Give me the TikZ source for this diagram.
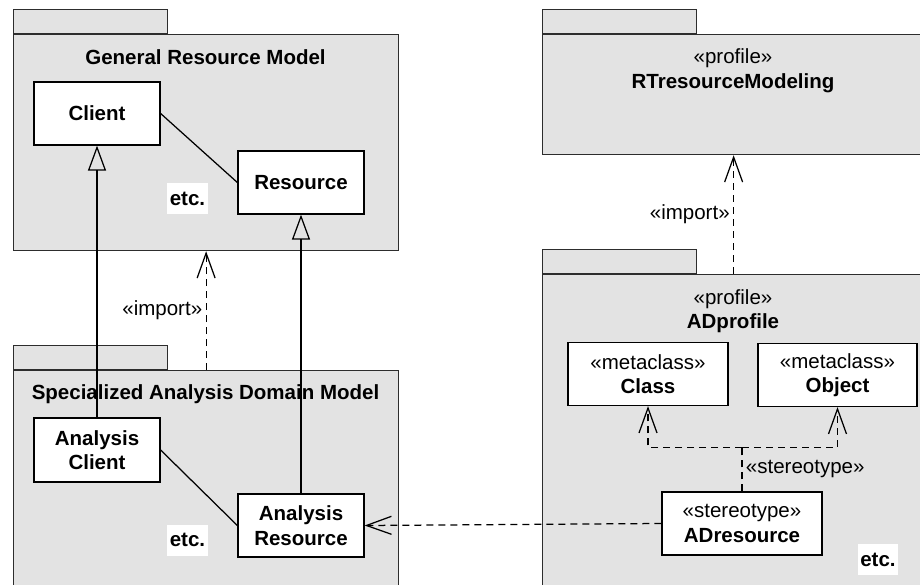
\documentclass[tikz,border=0pt]{standalone}
\usepackage{fontspec}
\setmainfont{Liberation Sans}
\usepackage{tikz}
\usetikzlibrary{positioning, calc, arrows.meta}
\definecolor{pkggray}{RGB}{227,227,227}
\definecolor{pkgline}{RGB}{45,45,45}
\newcommand{\dgsize}{\fontsize{20.5}{24.5}\selectfont}

\begin{document}
\begin{tikzpicture}[x=1pt,y=-1pt,line width=1.25pt,
    pkg/.style={draw=pkgline,fill=pkggray,inner sep=0pt},
    pkgtab/.style={pkg,anchor=south west,minimum width=154pt,minimum height=24pt},
    pkgtitle/.style={align=center,font=\dgsize},
    cls/.style={draw,fill=white,align=center,font=\dgsize,minimum width=126pt,minimum height=63pt},
    etcbox/.style={fill=white,inner xsep=2.5pt,inner ysep=0pt,minimum height=31pt,font=\dgsize\bfseries},
    lbl/.style={font=\dgsize},
    dep/.style={dash pattern=on 7pt off 5pt,-{Straight Barb[length=25pt,width=18pt]}},
    gen/.style={-{Triangle[open,length=25pt,width=18pt]}}]
      \clip (0,0) rectangle (920,585);
      % packages
      \node[pkg,anchor=north west,minimum width=385pt,minimum height=216pt] (grm) at (13,34) {};
      \node[pkgtab] (grm_tab) at (grm.north west) {};
      \node[pkg,anchor=north west,minimum width=385pt,minimum height=240pt] (sadm) at (13,370) {};
      \node[pkgtab] (sadm_tab) at (sadm.north west) {};
      \node[pkg,anchor=north west,minimum width=382pt,minimum height=120pt] (rtm) at (542,34) {};
      \node[pkgtab] (rtm_tab) at (rtm.north west) {};
      \node[pkg,anchor=north west,minimum width=382pt,minimum height=330pt] (adp) at (542,274) {};
      \node[pkgtab] (adp_tab) at (adp.north west) {};
      %
      \node[pkgtitle] (grm_title) at (205.5,57) {\textbf{General Resource Model}};
      \node[pkgtitle] (sadm_title) at (205.5,394) {\textbf{Specialized Analysis Domain Model}};
      \node[pkgtitle] (rtm_title) at (733,70.5) {«profile»\\\textbf{RTresourceModeling}};
      \node[pkgtitle] (adp_title) at (733,311) {«profile»\\\textbf{ADprofile}};
      % classes
      \node[cls] (client) at (97,113.5) {\textbf{Client}};
      \node[cls] (resource) at (301,182.5) {\textbf{Resource}};
      \node[cls,minimum height=64pt] (aclient) at (97,450) {\textbf{Analysis}\\\textbf{Client}};
      \node[cls] (ares) at (301,525.5) {\textbf{Analysis}\\\textbf{Resource}};
      \node[cls,minimum width=160pt] (metaclass) at (648,374) {«metaclass»\\\textbf{Class}};
      \node[cls,minimum width=159pt] (metaobject) at (837.5,375) {«metaclass»\\\textbf{Object}};
      \node[cls,minimum width=160pt] (adres) at (742,523.5) {«stereotype»\\\textbf{ADresource}};
      %
      \node[etcbox] (grm_etc) at (187.5,198.5) {etc.};
      \node[etcbox] (sadm_etc) at (187.5,540) {etc.};
      \node[etcbox] (adp_etc) at (878,559.5) {etc.};
      % connectors
      \draw (client.east) -- (resource.west);
      \draw (aclient.east) -- (ares.west);
      \draw[gen] (aclient.north) -- (client.south);
      \draw[gen] (ares.north) -- (resource.south);
      \draw[dep] (sadm.north) -- node[lbl,left]{«import»} (grm.south);
      \draw[dep] (adp.north) -- node[lbl,left]{«import»} (rtm.south);
      \draw[dep] (adres.west) -- (ares.east);
      %
      \coordinate (stereo_split) at ($(adres.north)+(0,-44)$);
      \draw[dash pattern=on 7pt off 5pt] (adres.north) -- node[lbl,right]{«stereotype»} (stereo_split);
      \draw[dep] (stereo_split) -| (metaclass.south);
      \draw[dep] (stereo_split) -| (metaobject.south);
\end{tikzpicture}
\end{document}
